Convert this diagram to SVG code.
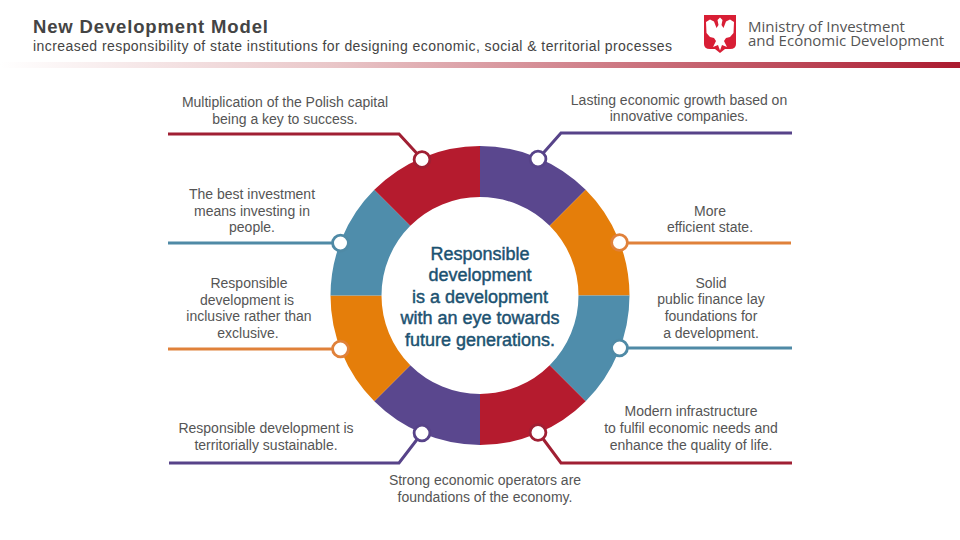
<svg xmlns="http://www.w3.org/2000/svg" width="960" height="540" viewBox="0 0 960 540">
<style>
text{font-family:"Liberation Sans",Arial,sans-serif}
.l{font-size:14px;fill:#555;text-anchor:middle;letter-spacing:0}
.c{font-size:18px;fill:#1c5271;stroke:#1c5271;stroke-width:.45;text-anchor:middle}
.ln{fill:none;stroke-width:3}
.dot{fill:#fff;stroke-width:2.800}
.red{stroke:#a01f33}.pur{stroke:#574389}.blu{stroke:#4f8aa6}.org{stroke:#e0813a}
</style>
<defs><linearGradient id="bar"><stop offset="0" stop-color="#fff"/><stop offset=".35" stop-color="#e9c6c8"/><stop offset="1" stop-color="#ab1a2f"/></linearGradient></defs>
<rect width="960" height="540" fill="#fff"/>
<g id="header">
<text x="33" y="33" font-size="18.500" font-weight="700" fill="#444" letter-spacing=".85">New Development Model</text>
<text x="33" y="51" font-size="14" fill="#444" letter-spacing=".43">increased responsibility of state institutions for designing economic, social &amp; territorial processes</text>
<rect x="0" y="62" width="960" height="6" fill="url(#bar)"/>
</g>
<g id="logo">
<path d="M704 15H736V44Q736 49 730 49H725L720 53L715 49H710Q704 49 704 44Z" fill="#d81e35"/>
<path d="M720 17.500L722.500 20L721.500 25L723.500 28L726 21.500L730 19.500L734 22L733.500 33L730 37L726 38L724 41L727 47L722 45L720 50.500L718 45L713 47L716 41L714 38L710 37L706.500 33L706 22L710 19.500L714 21.500L716.500 28L718.500 25L717.500 20Z" fill="#fff"/>
<text style="font-family:'Open Sans',sans-serif" font-size="15" fill="#555"><tspan x="748" y="32">Ministry of Investment</tspan><tspan x="748" y="46">and Economic Development</tspan></text>
</g>
<g id="ring">
<path d="M480 146A149.500 149.500 0 0 1 585.700 189.800L549.700 225.800A98.500 98.500 0 0 0 480 197Z" fill="#5a478e"/>
<path d="M585.700 189.800A149.500 149.500 0 0 1 629.500 295.500H578.500A98.500 98.500 0 0 0 549.700 225.800Z" fill="#e57e0a"/>
<path d="M629.500 295.500A149.500 149.500 0 0 1 585.700 401.200L549.700 365.200A98.500 98.500 0 0 0 578.500 295.500Z" fill="#4f8dab"/>
<path d="M585.700 401.200A149.500 149.500 0 0 1 480 445V394A98.500 98.500 0 0 0 549.700 365.200Z" fill="#b51b2e"/>
<path d="M480 445A149.500 149.500 0 0 1 374.300 401.200L410.300 365.200A98.500 98.500 0 0 0 480 394Z" fill="#5a478e"/>
<path d="M374.300 401.200A149.500 149.500 0 0 1 330.500 295.500H381.500A98.500 98.500 0 0 0 410.300 365.200Z" fill="#e57e0a"/>
<path d="M330.500 295.500A149.500 149.500 0 0 1 374.300 189.800L410.300 225.800A98.500 98.500 0 0 0 381.500 295.500Z" fill="#4f8dab"/>
<path d="M374.300 189.800A149.500 149.500 0 0 1 480 146V197A98.500 98.500 0 0 0 410.300 225.800Z" fill="#b51b2e"/>
</g>
<g id="connectors">
<path class="ln red" d="M168 134H399L422 159"/>
<path class="ln pur" d="M792 133H561L538 159"/>
<path class="ln blu" d="M168 243H340"/>
<path class="ln org" d="M791 243H619"/>
<path class="ln org" d="M168 349H340"/>
<path class="ln blu" d="M792 348H619"/>
<path class="ln pur" d="M169 463H399L422 433"/>
<path class="ln red" d="M792 463H561L538 432"/>
</g>
<g id="n1"><circle class="dot red" cx="422" cy="159.500" r="7.900"/><text class="l" x="285" y="107">Multiplication of the Polish capital</text><text class="l" x="285" y="124">being a key to success.</text></g>
<g id="n2"><circle class="dot pur" cx="538" cy="159" r="7.900"/><text class="l" x="679" y="105">Lasting economic growth based on</text><text class="l" x="679" y="121">innovative companies.</text></g>
<g id="n3"><circle class="dot blu" cx="340.500" cy="243" r="7.900"/><text class="l" x="252" y="199">The best investment</text><text class="l" x="252" y="216">means investing in</text><text class="l" x="252" y="232">people.</text></g>
<g id="n4"><circle class="dot org" cx="619.500" cy="242.500" r="7.900"/><text class="l" x="710" y="216">More</text><text class="l" x="710" y="232">efficient state.</text></g>
<g id="n5"><circle class="dot org" cx="340.500" cy="349" r="7.900"/><text class="l" x="249" y="288">Responsible</text><text class="l" x="247" y="305">development is</text><text class="l" x="249" y="321">inclusive rather than</text><text class="l" x="248" y="338">exclusive.</text></g>
<g id="n6"><circle class="dot blu" cx="619.500" cy="348" r="7.900"/><text class="l" x="711" y="288">Solid</text><text class="l" x="711" y="304">public finance lay</text><text class="l" x="711" y="321">foundations for</text><text class="l" x="711" y="338">a development.</text></g>
<g id="n7"><circle class="dot pur" cx="422" cy="433" r="7.900"/><text class="l" x="266" y="433">Responsible development is</text><text class="l" x="266" y="450">territorially sustainable.</text></g>
<g id="n8"><circle class="dot red" cx="538" cy="432.500" r="7.900"/><text class="l" x="691" y="416">Modern infrastructure</text><text class="l" x="691" y="433">to fulfil economic needs and</text><text class="l" x="691" y="450">enhance the quality of life.</text></g>
<g id="n9"><text class="l" x="485" y="485">Strong economic operators are</text><text class="l" x="485" y="502">foundations of the economy.</text></g>
<g id="center"><text class="c" x="480" y="260">Responsible</text><text class="c" x="480" y="281">development</text><text class="c" x="480" y="303">is a development</text><text class="c" x="480" y="324">with an eye towards</text><text class="c" x="480" y="346">future generations.</text></g>
</svg>
